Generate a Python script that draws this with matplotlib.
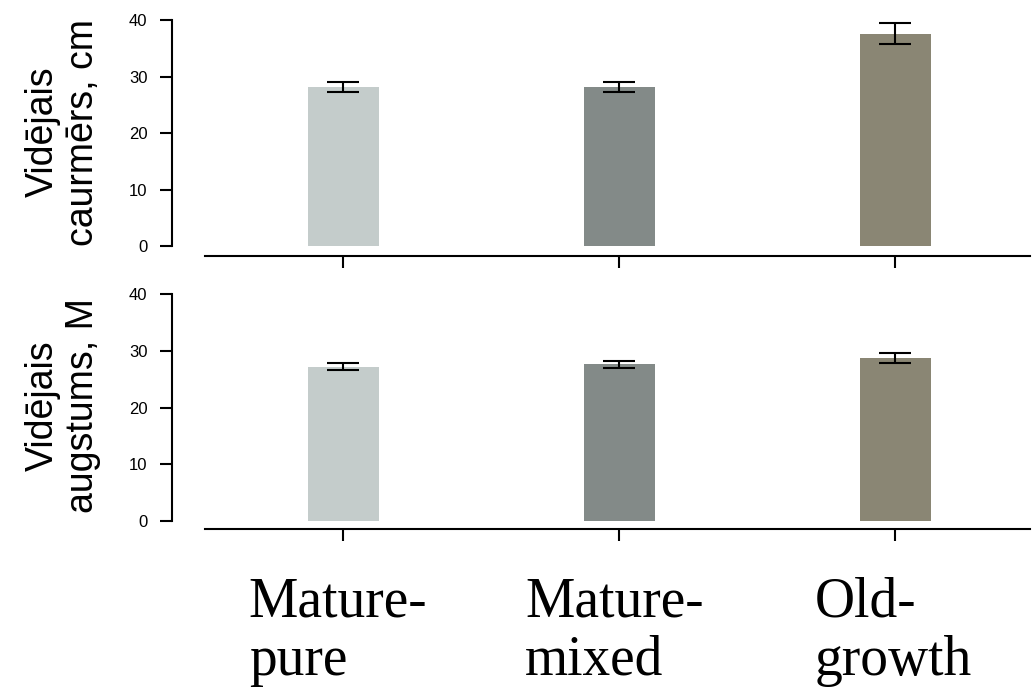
import numpy as np
import matplotlib
matplotlib.use('Agg')
import matplotlib.pyplot as plt

categories = ['Mature-\npure', 'Mature-\nmixed', 'Old-\ngrowth']
label_shift = [-0.342, -0.34, -0.29]

diameter = [28.2, 28.1, 37.6]
diameter_err = [0.85, 0.9, 1.85]

height = [27.2, 27.6, 28.7]
height_err = [0.65, 0.65, 0.9]

colors = ['#c4cccb', '#838a88', '#8a8674']
yticks = [0, 10, 20, 30, 40]

fig = plt.figure(figsize=(10.33, 6.89), dpi=100)
ax1 = fig.add_axes([0.1665, 0.6284, 0.8306, 0.3425])
ax2 = fig.add_axes([0.1665, 0.2322, 0.8306, 0.3411])

x = np.arange(len(categories))

def draw_panel(ax, values, errs, ylabel, ybottom):
  ax.bar(x, values, width=0.257, color=colors, zorder=1)
  ax.errorbar(x, values, yerr=errs, fmt='none', ecolor='black',
              elinewidth=1.5, capsize=11.5, capthick=1.5, zorder=2)
  ax.set_xlim(-0.62, 2.489)
  ax.set_ylim(ybottom, 40)
  ax.set_yticks(yticks)
  ax.set_xticks(x)
  ax.set_xticklabels([])
  for s in ['top', 'right']:
    ax.spines[s].set_visible(False)
  ax.spines['left'].set_bounds(0, 40)
  ax.spines['bottom'].set_bounds(-0.5, 2.489)
  ax.spines['left'].set_linewidth(1.5)
  ax.spines['bottom'].set_linewidth(1.5)
  ax.tick_params(axis='y', length=8.6, width=1.5, labelsize=12, pad=9)
  ax.tick_params(axis='x', length=8.6, width=1.5)
  for lab in ax.get_yticklabels():
    lab.set_fontfamily('Liberation Sans')
  ax.set_ylabel(ylabel, fontsize=27, fontfamily='Liberation Sans',
                linespacing=1.15)
  ax.yaxis.set_label_coords(-0.083, 0.525)

draw_panel(ax1, diameter, diameter_err, 'Vidējais\ncaurmērs, cm', -1.77)
draw_panel(ax2, height, height_err, 'Vidējais\naugstums, M', -1.41)

for i, cat in enumerate(categories):
  ax2.text(x[i] + label_shift[i], -0.204, cat, transform=ax2.get_xaxis_transform(),
           ha='left', va='top', fontsize=40, fontfamily='Liberation Serif',
           linespacing=1.14)

fig.savefig('out.png', dpi=100)
